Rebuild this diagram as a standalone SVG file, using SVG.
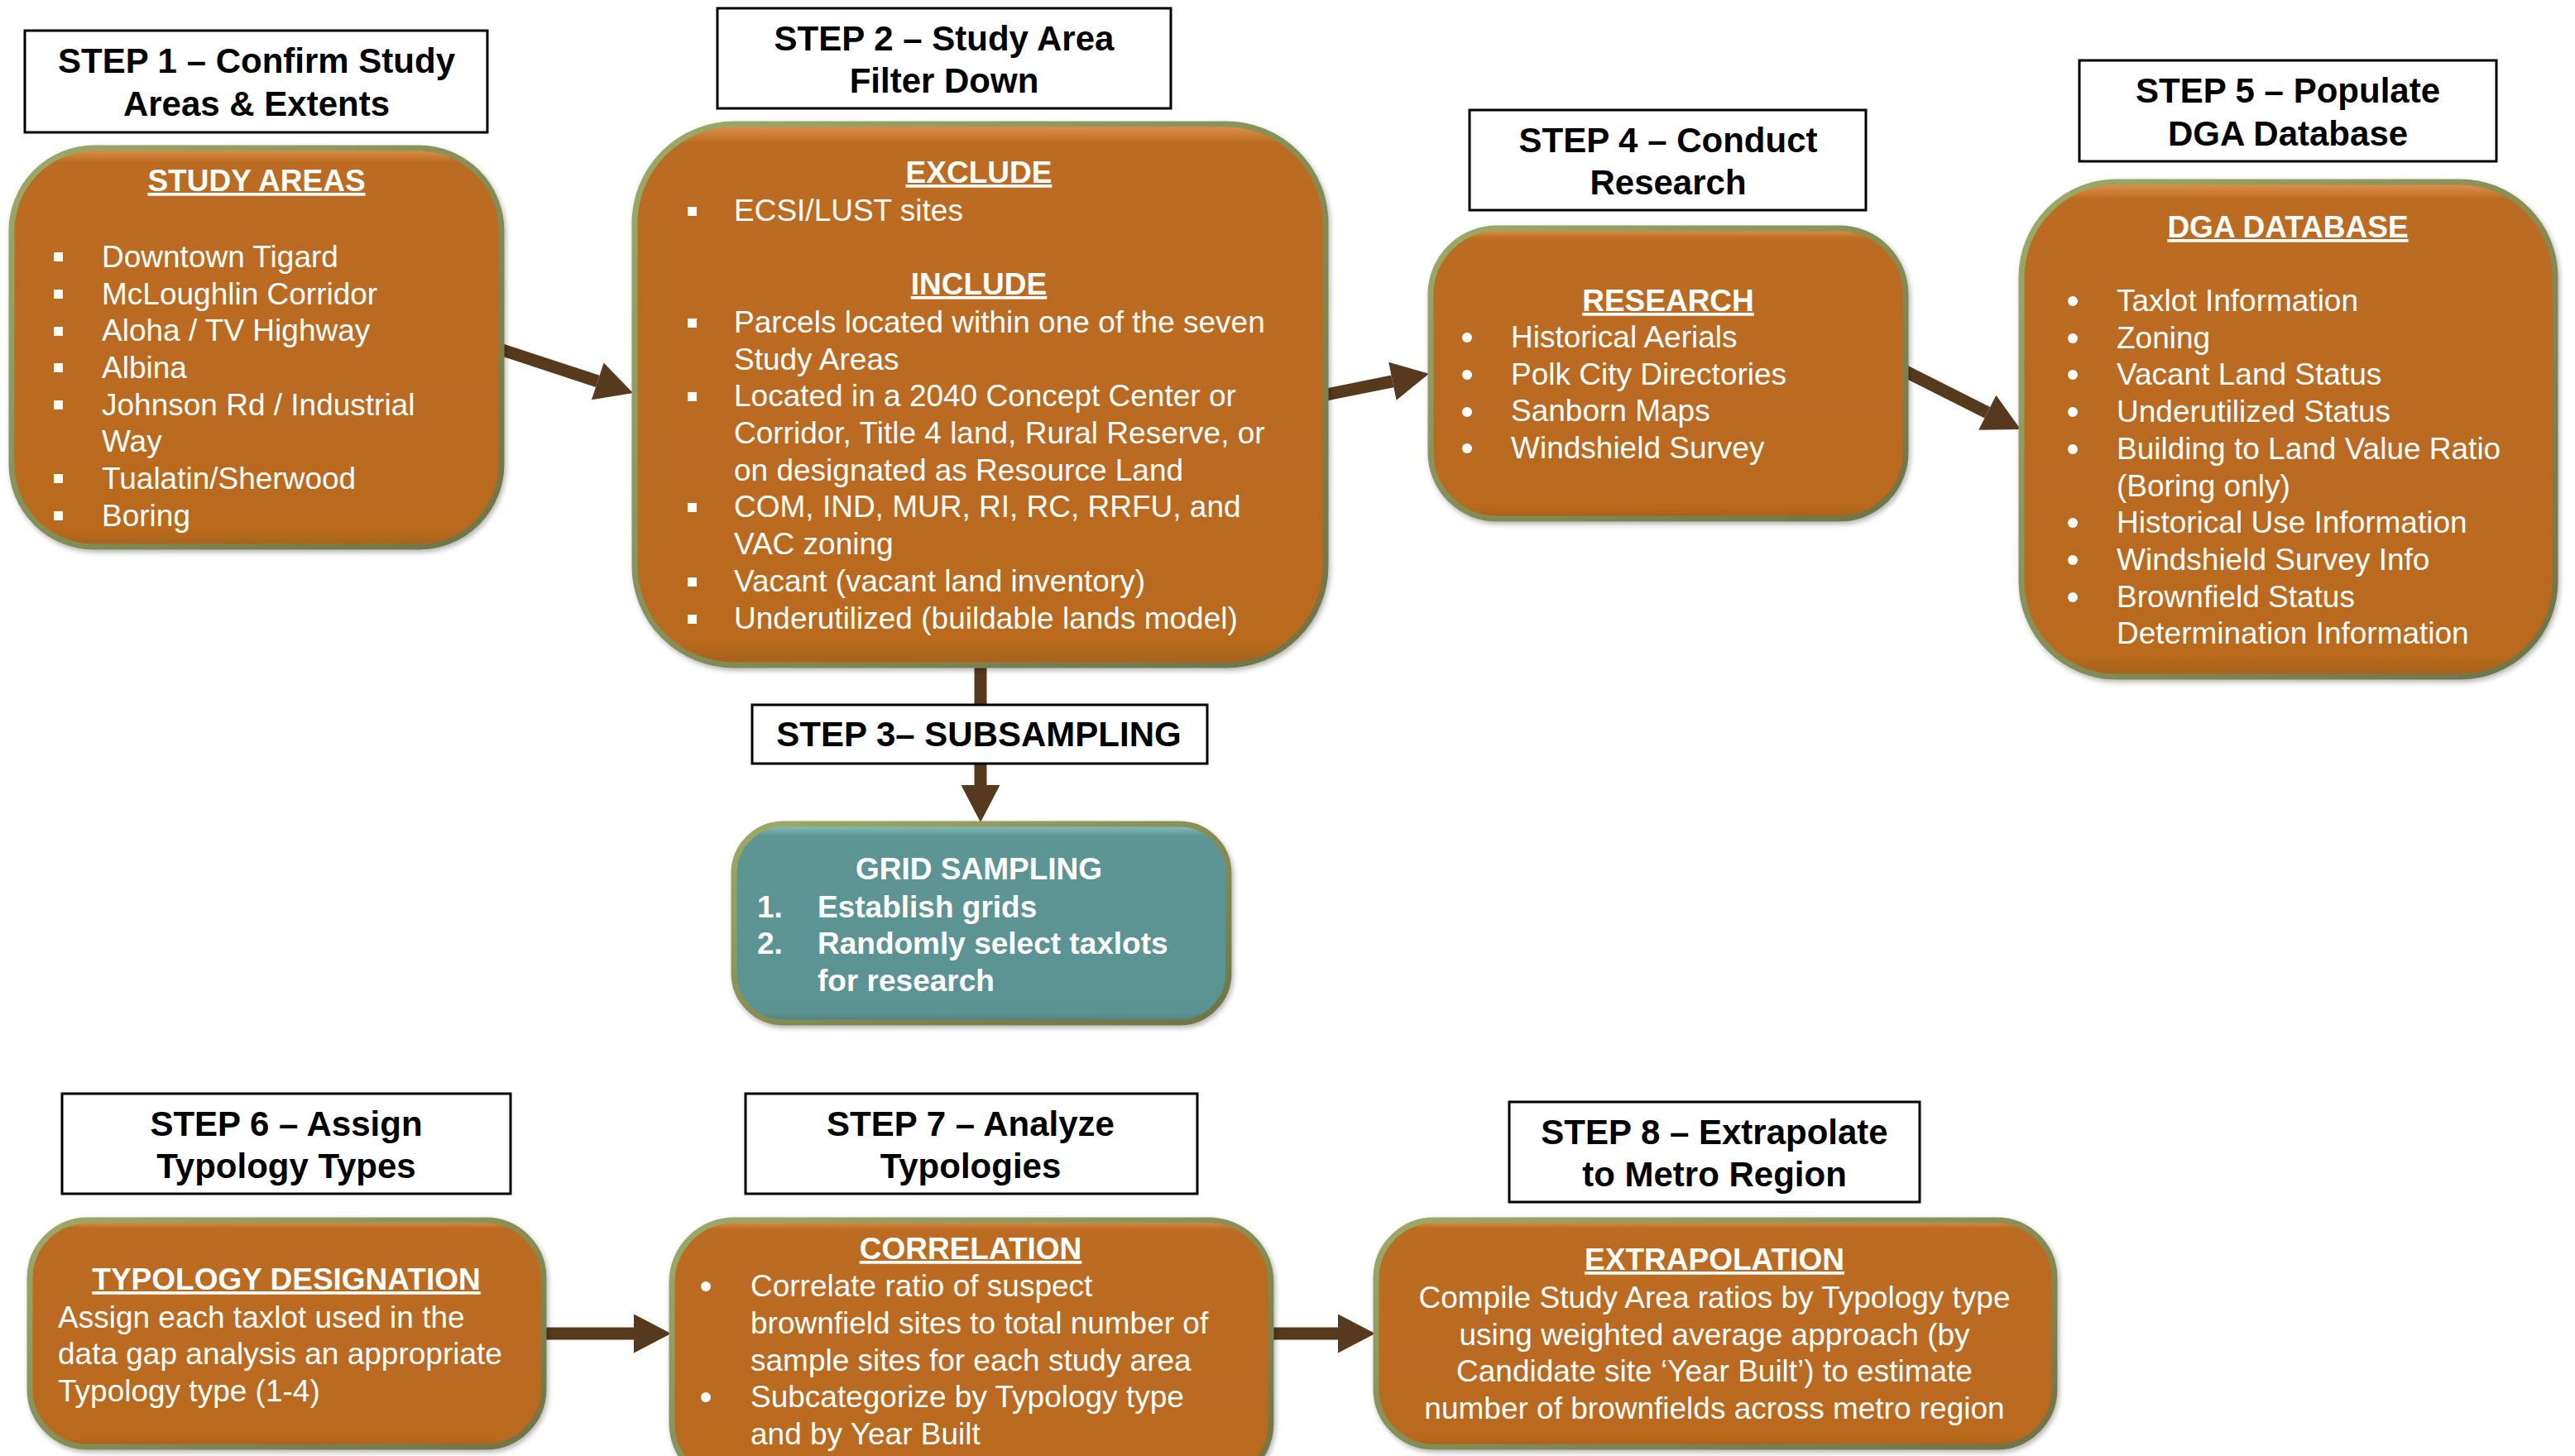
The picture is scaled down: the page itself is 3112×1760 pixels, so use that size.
<svg xmlns="http://www.w3.org/2000/svg" width="3112" height="1760" viewBox="0 0 3112 1760">
<defs>
<style>
.lbl{fill:#ffffff;stroke:#000000;stroke-width:3}
.lt{font-family:"Liberation Sans",Arial,sans-serif;font-weight:bold;font-size:42px;fill:#000000;text-anchor:middle}
.node{fill:url(#orangeFill);stroke:url(#edge);stroke-width:7;filter:url(#sh)}
.teal{fill:url(#tealFill);stroke:url(#edge);stroke-width:7;filter:url(#sh)}
.hd{font-family:"Liberation Sans",Arial,sans-serif;font-weight:bold;font-size:37px;fill:#ffffff;text-anchor:middle;text-decoration:underline}
.tx{font-family:"Liberation Sans",Arial,sans-serif;font-size:37px;fill:#ffffff}
.txc{font-family:"Liberation Sans",Arial,sans-serif;font-size:37px;fill:#ffffff;text-anchor:middle}
.tb{font-family:"Liberation Sans",Arial,sans-serif;font-weight:bold;font-size:37px;fill:#ffffff}
.sq{fill:#ffffff}
.dot{fill:#ffffff}
.conn{stroke:#573A1E;stroke-width:15;fill:none}
</style>
<linearGradient id="orangeFill" x1="0" y1="0" x2="0" y2="1">
<stop offset="0" stop-color="#E39552"/>
<stop offset="0.035" stop-color="#BC6C21"/>
<stop offset="0.96" stop-color="#B96A1F"/>
<stop offset="1" stop-color="#A4611E"/>
</linearGradient>
<linearGradient id="tealFill" x1="0" y1="0" x2="0" y2="1">
<stop offset="0" stop-color="#8CC7C4"/>
<stop offset="0.06" stop-color="#5C9594"/>
<stop offset="0.95" stop-color="#5A9392"/>
<stop offset="1" stop-color="#4F8280"/>
</linearGradient>
<linearGradient id="edge" x1="0" y1="0" x2="1" y2="1">
<stop offset="0" stop-color="#9DAA66"/>
<stop offset="1" stop-color="#6F7346"/>
</linearGradient>
<filter id="sh" x="-5%" y="-5%" width="110%" height="110%">
<feDropShadow dx="2" dy="3" stdDeviation="3" flood-color="#000000" flood-opacity="0.3"/>
</filter>
<marker id="ah" markerUnits="userSpaceOnUse" markerWidth="50" markerHeight="50" viewBox="0 -25 46 50" refX="0" refY="0" orient="auto">
<path d="M0,-23.5 L45,0 L0,23.5 Z" fill="#573A1E"/>
</marker>
</defs>
<rect width="3112" height="1760" fill="#ffffff"/>

<g id="connectors">
<line class="conn" x1="604" y1="422" x2="722.3" y2="460.9" marker-end="url(#ah)"/>
<line class="conn" x1="1598" y1="478" x2="1682.9" y2="460.8" marker-end="url(#ah)"/>
<line class="conn" x1="2301" y1="448" x2="2401.8" y2="498.8" marker-end="url(#ah)"/>
<line class="conn" x1="1185" y1="804" x2="1185" y2="852"/>
<line class="conn" x1="1185" y1="922" x2="1185" y2="949" marker-end="url(#ah)"/>
<line class="conn" x1="655" y1="1612" x2="766" y2="1612" marker-end="url(#ah)"/>
<line class="conn" x1="1534" y1="1612" x2="1617" y2="1612" marker-end="url(#ah)"/>
</g>

<g id="step1">
<rect class="lbl" x="30" y="37" width="559" height="123"/>
<text class="lt" x="310" y="88">STEP 1 – Confirm Study</text>
<text class="lt" x="310" y="140">Areas &amp; Extents</text>
<rect class="node" x="14" y="179" width="592" height="482" rx="100" ry="100"/>
<text class="hd" x="310" y="231">STUDY AREAS</text>
<rect class="sq" x="65" y="305" width="11" height="11"/>
<rect class="sq" x="65" y="350" width="11" height="11"/>
<rect class="sq" x="65" y="395" width="11" height="11"/>
<rect class="sq" x="65" y="439" width="11" height="11"/>
<rect class="sq" x="65" y="484" width="11" height="11"/>
<rect class="sq" x="65" y="573" width="11" height="11"/>
<rect class="sq" x="65" y="618" width="11" height="11"/>
<text class="tx" x="123" y="323">Downtown Tigard</text>
<text class="tx" x="123" y="368">McLoughlin Corridor</text>
<text class="tx" x="123" y="412">Aloha / TV Highway</text>
<text class="tx" x="123" y="457">Albina</text>
<text class="tx" x="123" y="502">Johnson Rd / Industrial</text>
<text class="tx" x="123" y="546">Way</text>
<text class="tx" x="123" y="591">Tualatin/Sherwood</text>
<text class="tx" x="123" y="636">Boring</text>
</g>

<g id="step2">
<rect class="lbl" x="867" y="10" width="548" height="121"/>
<text class="lt" x="1141" y="61">STEP 2 – Study Area</text>
<text class="lt" x="1141" y="112">Filter Down</text>
<rect class="node" x="767" y="150" width="835" height="654" rx="120" ry="120"/>
<text class="hd" x="1183" y="221">EXCLUDE</text>
<rect class="sq" x="831" y="250" width="11" height="11"/>
<text class="tx" x="887" y="267">ECSI/LUST sites</text>
<text class="hd" x="1183" y="356">INCLUDE</text>
<rect class="sq" x="831" y="385" width="11" height="11"/>
<rect class="sq" x="831" y="474" width="11" height="11"/>
<rect class="sq" x="831" y="608" width="11" height="11"/>
<rect class="sq" x="831" y="698" width="11" height="11"/>
<rect class="sq" x="831" y="743" width="11" height="11"/>
<text class="tx" x="887" y="402">Parcels located within one of the seven</text>
<text class="tx" x="887" y="447">Study Areas</text>
<text class="tx" x="887" y="491">Located in a 2040 Concept Center or</text>
<text class="tx" x="887" y="536">Corridor, Title 4 land, Rural Reserve, or</text>
<text class="tx" x="887" y="581">on designated as Resource Land</text>
<text class="tx" x="887" y="625">COM, IND, MUR, RI, RC, RRFU, and</text>
<text class="tx" x="887" y="670">VAC zoning</text>
<text class="tx" x="887" y="715">Vacant (vacant land inventory)</text>
<text class="tx" x="887" y="760">Underutilized (buildable lands model)</text>
</g>

<g id="step3">
<rect class="lbl" x="909" y="852" width="550" height="71"/>
<text class="lt" x="1183" y="902">STEP 3– SUBSAMPLING</text>
<rect class="teal" x="887" y="996" width="598" height="240" rx="60" ry="60"/>
<text class="tb" x="1183" y="1063" text-anchor="middle">GRID SAMPLING</text>
<text class="tb" x="915" y="1109">1.</text>
<text class="tb" x="988" y="1109">Establish grids</text>
<text class="tb" x="915" y="1153">2.</text>
<text class="tb" x="988" y="1153">Randomly select taxlots</text>
<text class="tb" x="988" y="1198">for research</text>
</g>

<g id="step4">
<rect class="lbl" x="1776" y="133" width="479" height="121"/>
<text class="lt" x="2016" y="184">STEP 4 – Conduct</text>
<text class="lt" x="2016" y="235">Research</text>
<rect class="node" x="1729" y="276" width="574" height="351" rx="80" ry="80"/>
<text class="hd" x="2016" y="376">RESEARCH</text>
<circle class="dot" cx="1773" cy="408" r="6"/>
<circle class="dot" cx="1773" cy="453" r="6"/>
<circle class="dot" cx="1773" cy="498" r="6"/>
<circle class="dot" cx="1773" cy="542" r="6"/>
<text class="tx" x="1826" y="420">Historical Aerials</text>
<text class="tx" x="1826" y="465">Polk City Directories</text>
<text class="tx" x="1826" y="509">Sanborn Maps</text>
<text class="tx" x="1826" y="554">Windshield Survey</text>
</g>

<g id="step5">
<rect class="lbl" x="2513" y="73" width="504" height="122"/>
<text class="lt" x="2765" y="124">STEP 5 – Populate</text>
<text class="lt" x="2765" y="176">DGA Database</text>
<rect class="node" x="2443" y="220" width="645" height="598" rx="115" ry="115"/>
<text class="hd" x="2765" y="287">DGA DATABASE</text>
<circle class="dot" cx="2505" cy="364" r="6"/>
<circle class="dot" cx="2505" cy="409" r="6"/>
<circle class="dot" cx="2505" cy="453" r="6"/>
<circle class="dot" cx="2505" cy="498" r="6"/>
<circle class="dot" cx="2505" cy="543" r="6"/>
<circle class="dot" cx="2505" cy="632" r="6"/>
<circle class="dot" cx="2505" cy="677" r="6"/>
<circle class="dot" cx="2505" cy="722" r="6"/>
<text class="tx" x="2558" y="376">Taxlot Information</text>
<text class="tx" x="2558" y="421">Zoning</text>
<text class="tx" x="2558" y="465">Vacant Land Status</text>
<text class="tx" x="2558" y="510">Underutilized Status</text>
<text class="tx" x="2558" y="555">Building to Land Value Ratio</text>
<text class="tx" x="2558" y="600">(Boring only)</text>
<text class="tx" x="2558" y="644">Historical Use Information</text>
<text class="tx" x="2558" y="689">Windshield Survey Info</text>
<text class="tx" x="2558" y="734">Brownfield Status</text>
<text class="tx" x="2558" y="778">Determination Information</text>
</g>

<g id="step6">
<rect class="lbl" x="75" y="1322" width="542" height="121"/>
<text class="lt" x="346" y="1373">STEP 6 – Assign</text>
<text class="lt" x="346" y="1424">Typology Types</text>
<rect class="node" x="36" y="1475" width="621" height="274" rx="70" ry="70"/>
<text class="hd" x="346" y="1559">TYPOLOGY DESIGNATION</text>
<text class="tx" x="70" y="1605">Assign each taxlot used in the</text>
<text class="tx" x="70" y="1649">data gap analysis an appropriate</text>
<text class="tx" x="70" y="1694">Typology type (1-4)</text>
</g>

<g id="step7">
<rect class="lbl" x="901" y="1322" width="546" height="121"/>
<text class="lt" x="1173" y="1373">STEP 7 – Analyze</text>
<text class="lt" x="1173" y="1424">Typologies</text>
<rect class="node" x="812" y="1475" width="724" height="320" rx="75" ry="75"/>
<text class="hd" x="1173" y="1522">CORRELATION</text>
<circle class="dot" cx="853" cy="1555" r="6"/>
<circle class="dot" cx="853" cy="1689" r="6"/>
<text class="tx" x="907" y="1567">Correlate ratio of suspect</text>
<text class="tx" x="907" y="1612">brownfield sites to total number of</text>
<text class="tx" x="907" y="1657">sample sites for each study area</text>
<text class="tx" x="907" y="1701">Subcategorize by Typology type</text>
<text class="tx" x="907" y="1746">and by Year Built</text>
</g>

<g id="step8">
<rect class="lbl" x="1824" y="1332" width="496" height="121"/>
<text class="lt" x="2072" y="1383">STEP 8 – Extrapolate</text>
<text class="lt" x="2072" y="1434">to Metro Region</text>
<rect class="node" x="1663" y="1475" width="820" height="274" rx="70" ry="70"/>
<text class="hd" x="2072" y="1535">EXTRAPOLATION</text>
<text class="txc" x="2072" y="1581">Compile Study Area ratios by Typology type</text>
<text class="txc" x="2072" y="1626">using weighted average approach (by</text>
<text class="txc" x="2072" y="1670">Candidate site ‘Year Built’) to estimate</text>
<text class="txc" x="2072" y="1715">number of brownfields across metro region</text>
</g>
</svg>
